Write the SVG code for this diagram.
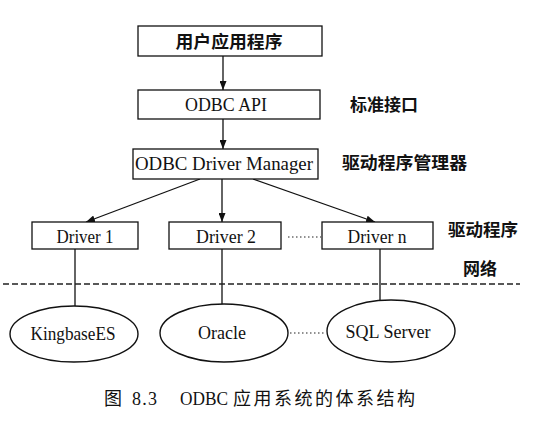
<svg xmlns="http://www.w3.org/2000/svg" width="536" height="422" viewBox="0 0 536 422">
<style>
.box{fill:#fff;stroke:#111;stroke-width:1.3}
.ell{fill:#fff;stroke:#111;stroke-width:1.4}
.ln{fill:none;stroke:#111;stroke-width:1.3}
.dot{fill:none;stroke:#222;stroke-width:1.2;stroke-dasharray:1.5 2.5}
.dash{fill:none;stroke:#222;stroke-width:1.6;stroke-dasharray:6 3}
.en{font-family:"Liberation Serif","Noto Sans CJK SC",serif;font-size:19px;fill:#111;text-anchor:middle}
.cjk{font-family:"Noto Sans CJK SC",sans-serif;font-size:17px;font-weight:bold;fill:#111}
.cap{font-family:"Liberation Serif","Noto Sans CJK SC",serif;font-size:18px;fill:#111}
</style>
<defs>
<marker id="ah" markerWidth="9" markerHeight="7" refX="9" refY="3.5" orient="auto" markerUnits="userSpaceOnUse">
<path d="M0,0 L9,3.5 L0,7 Z" fill="#111"/>
</marker>
</defs>
<rect width="536" height="422" fill="#fff"/>
<g id="connectors">
<line class="ln" x1="223" y1="56" x2="223" y2="90" marker-end="url(#ah)"/>
<line class="ln" x1="223" y1="119" x2="223" y2="149" marker-end="url(#ah)"/>
<line class="ln" x1="200" y1="179" x2="86" y2="222" marker-end="url(#ah)"/>
<line class="ln" x1="222" y1="179" x2="222" y2="222" marker-end="url(#ah)"/>
<line class="ln" x1="253" y1="179" x2="375" y2="222" marker-end="url(#ah)"/>
<line class="ln" x1="75" y1="249" x2="75" y2="306"/>
<line class="ln" x1="222" y1="249" x2="222" y2="304"/>
<line class="ln" x1="380" y1="249" x2="380" y2="301"/>
<line class="dot" x1="288" y1="237" x2="321" y2="237"/>
<line class="dot" x1="290" y1="333" x2="326" y2="333"/>
<line class="dash" x1="3" y1="284" x2="520" y2="284"/>
</g>
<g id="app">
<rect class="box" x="138" y="26" width="184" height="30"/>
<text class="cjk" x="229" y="48" text-anchor="middle" font-size="18" textLength="107" lengthAdjust="spacingAndGlyphs">用户应用程序</text>
</g>
<g id="api">
<rect class="box" x="138" y="90" width="182" height="29"/>
<text class="en" x="226" y="111" textLength="82" lengthAdjust="spacingAndGlyphs">ODBC API</text>
</g>
<g id="manager">
<rect class="box" x="133" y="149" width="185" height="30"/>
<text class="en" x="224" y="170" textLength="178" lengthAdjust="spacingAndGlyphs">ODBC Driver Manager</text>
</g>
<g id="driver1">
<rect class="box" x="32" y="222" width="106" height="27"/>
<text class="en" x="85" y="243" textLength="57" lengthAdjust="spacingAndGlyphs">Driver 1</text>
</g>
<g id="driver2">
<rect class="box" x="169" y="222" width="112" height="27"/>
<text class="en" x="226" y="243" textLength="60" lengthAdjust="spacingAndGlyphs">Driver 2</text>
</g>
<g id="drivern">
<rect class="box" x="322" y="222" width="111" height="27"/>
<text class="en" x="377" y="243" textLength="59" lengthAdjust="spacingAndGlyphs">Driver n</text>
</g>
<g id="kingbase">
<ellipse class="ell" cx="74" cy="334" rx="64" ry="28"/>
<text class="en" x="73" y="340" textLength="85" lengthAdjust="spacingAndGlyphs">KingbaseES</text>
</g>
<g id="oracle">
<ellipse class="ell" cx="224" cy="333" rx="64" ry="29"/>
<text class="en" x="222" y="339" textLength="48" lengthAdjust="spacingAndGlyphs">Oracle</text>
</g>
<g id="sqlserver">
<ellipse class="ell" cx="391" cy="331" rx="64" ry="31"/>
<text class="en" x="388" y="338" textLength="85" lengthAdjust="spacingAndGlyphs">SQL Server</text>
</g>
<g id="labels">
<text class="cjk" x="350" y="111" textLength="68" lengthAdjust="spacingAndGlyphs">标准接口</text>
<text class="cjk" x="342" y="169" textLength="125" lengthAdjust="spacingAndGlyphs">驱动程序管理器</text>
<text class="cjk" x="448" y="236" textLength="70" lengthAdjust="spacingAndGlyphs">驱动程序</text>
<text class="cjk" x="463" y="275" textLength="34" lengthAdjust="spacingAndGlyphs">网络</text>
<text class="cap" y="405"><tspan x="104">图</tspan><tspan x="132" textLength="25">8.3</tspan><tspan x="180" textLength="48" lengthAdjust="spacingAndGlyphs">ODBC</tspan><tspan x="233" textLength="182">应用系统的体系结构</tspan></text>
</g>
</svg>
